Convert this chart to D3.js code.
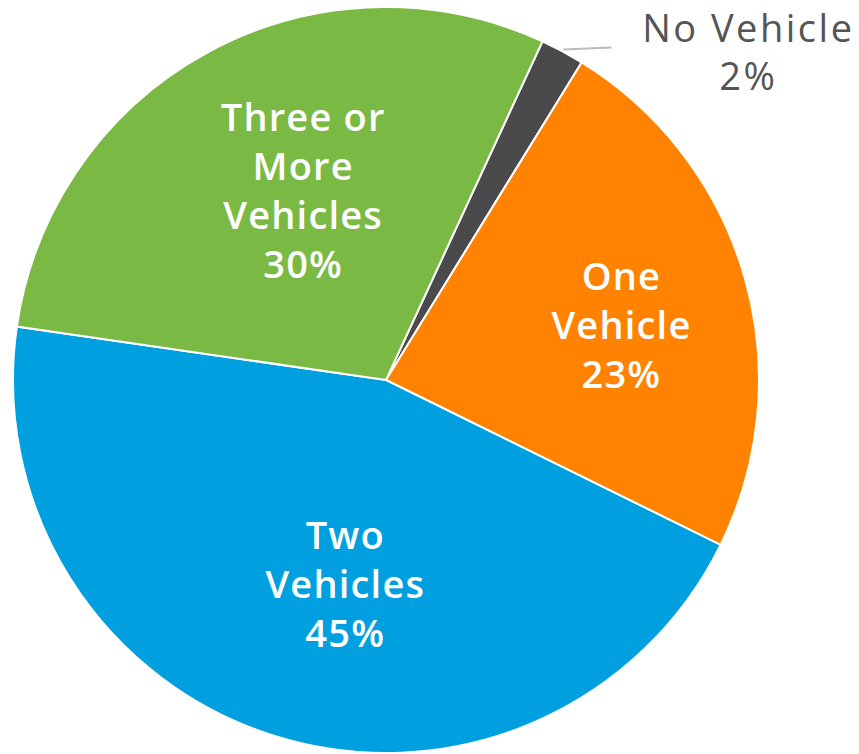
<!DOCTYPE html>
<html>
<head>
<meta charset="utf-8">
<script src="https://cdn.jsdelivr.net/npm/d3@7"></script>
<style>
  body { margin: 0; background: #fff; }
  svg text { font-family: "Open Sans", "Noto Sans", sans-serif; }
</style>
</head>
<body>
<div id="chart"></div>
<script>
// Household vehicle ownership shares
const categories = ["No Vehicle", "One Vehicle", "Two Vehicles", "Three or More Vehicles"];
const shares = [1.9, 23.5, 45.0, 29.6];
const shareLabels = ["2%", "23%", "45%", "30%"];
const labelLines = [["No Vehicle"], ["One", "Vehicle"], ["Two", "Vehicles"], ["Three or", "More", "Vehicles"]];
const colors = ["#4a4a4c", "#ff8200", "#009fdf", "#7ab943"];

const width = 859, height = 754;
const cx = 386, cy = 380, radius = 373;

const svg = d3.select("#chart")
  .append("svg")
  .attr("width", width)
  .attr("height", height);

const g = svg.append("g")
  .attr("transform", "translate(" + cx + "," + cy + ")");

const start = 24.8 * Math.PI / 180;

const pie = d3.pie()
  .sort(null)
  .value(d => d.share)
  .startAngle(start)
  .endAngle(start + 2 * Math.PI);

const data = categories.map((c, i) => ({
  name: c,
  share: shares[i],
  pct: shareLabels[i],
  lines: labelLines[i],
  color: colors[i]
}));

const arcs = pie(data);

const arc = d3.arc().innerRadius(0).outerRadius(radius);

g.selectAll("path.slice")
  .data(arcs)
  .join("path")
  .attr("class", "slice")
  .attr("d", arc)
  .attr("fill", d => d.data.color)
  .attr("stroke", "#fff")
  .attr("stroke-width", 2);

// label placement: fraction of radius and angle nudge (degrees) from the slice middle
const labelPlace = {
  "One Vehicle": { r: 0.648, da: 3 },
  "Two Vehicles": { r: 0.56, da: -6 },
  "Three or More Vehicles": { r: 0.553, da: 4.8 }
};
const lineHeight = 49;

const midAngle = d => (d.startAngle + d.endAngle) / 2;

arcs.filter(d => d.data.name !== "No Vehicle").forEach(d => {
  const p = labelPlace[d.data.name];
  const a = midAngle(d) + p.da * Math.PI / 180;
  const r = radius * p.r;
  const x = Math.sin(a) * r;
  const y = -Math.cos(a) * r;
  const rows = d.data.lines.concat([d.data.pct]);
  const text = g.append("text")
    .attr("text-anchor", "middle")
    .attr("fill", "#fff")
    .style("font-size", "38px")
    .style("font-weight", "600")
    .style("letter-spacing", "1.2px");
  rows.forEach((row, i) => {
    text.append("tspan")
      .attr("x", x)
      .attr("y", y + (i - (rows.length - 1) / 2) * lineHeight)
      .attr("dy", "0.35em")
      .text(row);
  });
});

// outside label with leader line for the small slice
const small = arcs.find(d => d.data.name === "No Vehicle");
const sa = midAngle(small);
const px = Math.sin(sa) * (radius + 2);
const py = -Math.cos(sa) * (radius + 2);

g.append("line")
  .attr("x1", px)
  .attr("y1", py)
  .attr("x2", px + 48)
  .attr("y2", py - 2)
  .attr("stroke", "#bdbdbd")
  .attr("stroke-width", 2);

const outer = g.append("text")
  .attr("text-anchor", "middle")
  .attr("fill", "#555")
  .style("font-size", "38px")
  .style("font-weight", "400")
  .style("letter-spacing", "2.5px");

[small.data.lines[0], small.data.pct].forEach((row, i) => {
  outer.append("tspan")
    .attr("x", px + 185)
    .attr("y", py - 21 + i * 48)
    .attr("dy", "0.35em")
    .text(row);
});
</script>
</body>
</html>
